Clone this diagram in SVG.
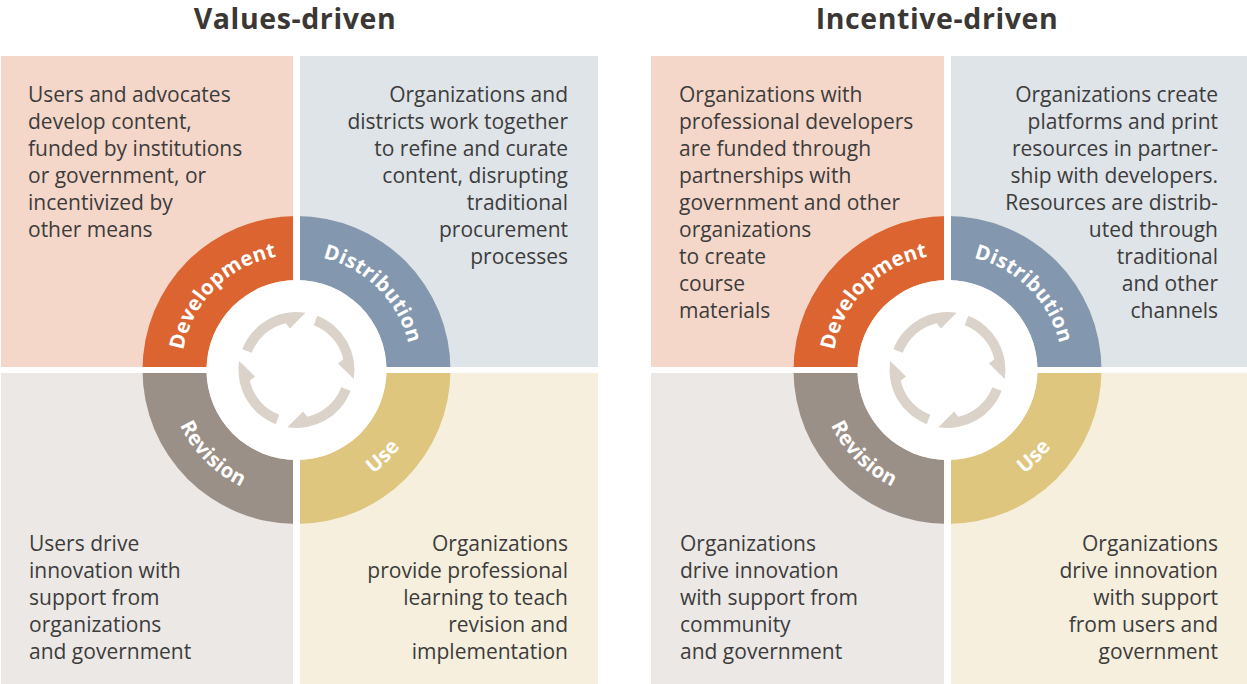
<svg xmlns="http://www.w3.org/2000/svg" xmlns:xlink="http://www.w3.org/1999/xlink" width="1247" height="684" viewBox="0 0 1247 684">
<style>
.title{font-family:"Open Sans","Liberation Sans",sans-serif;font-weight:700;font-size:28.5px;letter-spacing:0.6px;fill:#3a3735;text-anchor:middle}
.body{font-family:"Open Sans","Liberation Sans",sans-serif;font-size:21px;fill:#3c3c3c}
.r{text-anchor:end}
.lbl{font-family:"Open Sans","Liberation Sans",sans-serif;font-weight:700;font-size:20.5px;letter-spacing:0.3px;fill:#ffffff;text-anchor:middle}
.bgTL{fill:#f5d7c9}.bgTR{fill:#dfe4e8}.bgBL{fill:#ece8e5}.bgBR{fill:#f6efdd}
.dev{fill:#dc6430}.dist{fill:#8398ae}.rev{fill:#9b9087}.use{fill:#dfc67f}
.arr{fill:#dbd3c9}
</style>
<defs>
<path id="pDev" d="M-115,0 A115,115 0 0 1 0,-115"/>
<path id="pDist" d="M0,-115 A115,115 0 0 1 115,0"/>
<path id="pRev" d="M-129,0 A129,129 0 0 0 0,129"/>
<path id="pUse" d="M0,129 A129,129 0 0 0 129,0"/>
<path id="seg" d="M20.79,-54.15 A58,58 0 0 1 57.29,9.07 L41.48,-6.57 L46.77,-10.80 A48,48 0 0 0 17.20,-44.81 Z"/>
<g id="cycle">
<circle r="90" fill="#ffffff"/>
<use xlink:href="#seg" href="#seg" class="arr"/>
<use xlink:href="#seg" href="#seg" class="arr" transform="rotate(90)"/>
<use xlink:href="#seg" href="#seg" class="arr" transform="rotate(180)"/>
<use xlink:href="#seg" href="#seg" class="arr" transform="rotate(270)"/>
</g>
</defs>
<rect width="1247" height="684" fill="#ffffff"/>

<!-- Left panel: Values-driven -->
<g id="values-driven">
<text class="title" x="295" y="29">Values-driven</text>
<g id="v-development">
<rect class="bgTL" x="1" y="56" width="292" height="311"/>
<text class="body" x="28"><tspan x="28" y="101.5">Users and advocates</tspan><tspan x="28" y="128.5">develop content,</tspan><tspan x="28" y="155.5">funded by institutions</tspan><tspan x="28" y="182.5">or government, or</tspan><tspan x="28" y="209.5">incentivized by</tspan><tspan x="28" y="236.5">other means</tspan></text>
</g>
<g id="v-distribution">
<rect class="bgTR" x="300" y="56" width="298" height="311"/>
<text class="body r"><tspan x="568" y="101.5">Organizations and</tspan><tspan x="568" y="128.5">districts work together</tspan><tspan x="568" y="155.5">to refine and curate</tspan><tspan x="568" y="182.5">content, disrupting</tspan><tspan x="568" y="209.5">traditional</tspan><tspan x="568" y="236.5">procurement</tspan><tspan x="568" y="263.5">processes</tspan></text>
</g>
<g id="v-revision">
<rect class="bgBL" x="1" y="373" width="292" height="311"/>
<text class="body"><tspan x="29" y="550.5">Users drive</tspan><tspan x="29" y="577.5">innovation with</tspan><tspan x="29" y="604.5">support from</tspan><tspan x="29" y="631.5">organizations</tspan><tspan x="29" y="658.5">and government</tspan></text>
</g>
<g id="v-use">
<rect class="bgBR" x="300" y="373" width="298" height="311"/>
<text class="body r"><tspan x="568" y="550.5">Organizations</tspan><tspan x="568" y="577.5">provide professional</tspan><tspan x="568" y="604.5">learning to teach</tspan><tspan x="568" y="631.5">revision and</tspan><tspan x="568" y="658.5">implementation</tspan></text>
</g>
<g id="v-ring" transform="translate(296.5,370)">
<path class="dev" d="M-154,0 A154,154 0 0 1 0,-154 L0,-90 A90,90 0 0 0 -90,0Z"/>
<path class="dist" d="M0,-154 A154,154 0 0 1 154,0 L90,0 A90,90 0 0 0 0,-90Z"/>
<path class="use" d="M154,0 A154,154 0 0 1 0,154 L0,90 A90,90 0 0 0 90,0Z"/>
<path class="rev" d="M0,154 A154,154 0 0 1 -154,0 L-90,0 A90,90 0 0 0 0,90Z"/>
<rect x="-3.5" y="-156" width="7" height="312" fill="#ffffff"/>
<rect x="-156" y="-3" width="312" height="6" fill="#ffffff"/>
<use xlink:href="#cycle" href="#cycle"/>
<text class="lbl"><textPath xlink:href="#pDev" href="#pDev" startOffset="50%">Development</textPath></text>
<text class="lbl"><textPath xlink:href="#pDist" href="#pDist" startOffset="50%">Distribution</textPath></text>
<text class="lbl"><textPath xlink:href="#pRev" href="#pRev" startOffset="50%">Revision</textPath></text>
<text class="lbl"><textPath xlink:href="#pUse" href="#pUse" startOffset="50%">Use</textPath></text>
</g>
</g>

<!-- Right panel: Incentive-driven -->
<g id="incentive-driven">
<text class="title" x="937" y="29">Incentive-driven</text>
<g id="i-development">
<rect class="bgTL" x="651" y="56" width="293" height="311"/>
<text class="body"><tspan x="679" y="101.5">Organizations with</tspan><tspan x="679" y="128.5">professional developers</tspan><tspan x="679" y="155.5">are funded through</tspan><tspan x="679" y="182.5">partnerships with</tspan><tspan x="679" y="209.5">government and other</tspan><tspan x="679" y="236.5">organizations</tspan><tspan x="679" y="263.5">to create</tspan><tspan x="679" y="290.5">course</tspan><tspan x="679" y="317.5">materials</tspan></text>
</g>
<g id="i-distribution">
<rect class="bgTR" x="951" y="56" width="296" height="311"/>
<text class="body r"><tspan x="1218" y="101.5">Organizations create</tspan><tspan x="1218" y="128.5">platforms and print</tspan><tspan x="1218" y="155.5">resources in partner-</tspan><tspan x="1218" y="182.5">ship with developers.</tspan><tspan x="1218" y="209.5">Resources are distrib-</tspan><tspan x="1218" y="236.5">uted through</tspan><tspan x="1218" y="263.5">traditional</tspan><tspan x="1218" y="290.5">and other</tspan><tspan x="1218" y="317.5">channels</tspan></text>
</g>
<g id="i-revision">
<rect class="bgBL" x="651" y="373" width="293" height="311"/>
<text class="body"><tspan x="680" y="550.5">Organizations</tspan><tspan x="680" y="577.5">drive innovation</tspan><tspan x="680" y="604.5">with support from</tspan><tspan x="680" y="631.5">community</tspan><tspan x="680" y="658.5">and government</tspan></text>
</g>
<g id="i-use">
<rect class="bgBR" x="951" y="373" width="296" height="311"/>
<text class="body r"><tspan x="1218" y="550.5">Organizations</tspan><tspan x="1218" y="577.5">drive innovation</tspan><tspan x="1218" y="604.5">with support</tspan><tspan x="1218" y="631.5">from users and</tspan><tspan x="1218" y="658.5">government</tspan></text>
</g>
<g id="i-ring" transform="translate(947.5,370)">
<path class="dev" d="M-154,0 A154,154 0 0 1 0,-154 L0,-90 A90,90 0 0 0 -90,0Z"/>
<path class="dist" d="M0,-154 A154,154 0 0 1 154,0 L90,0 A90,90 0 0 0 0,-90Z"/>
<path class="use" d="M154,0 A154,154 0 0 1 0,154 L0,90 A90,90 0 0 0 90,0Z"/>
<path class="rev" d="M0,154 A154,154 0 0 1 -154,0 L-90,0 A90,90 0 0 0 0,90Z"/>
<rect x="-3.5" y="-156" width="7" height="312" fill="#ffffff"/>
<rect x="-156" y="-3" width="312" height="6" fill="#ffffff"/>
<use xlink:href="#cycle" href="#cycle"/>
<text class="lbl"><textPath xlink:href="#pDev" href="#pDev" startOffset="50%">Development</textPath></text>
<text class="lbl"><textPath xlink:href="#pDist" href="#pDist" startOffset="50%">Distribution</textPath></text>
<text class="lbl"><textPath xlink:href="#pRev" href="#pRev" startOffset="50%">Revision</textPath></text>
<text class="lbl"><textPath xlink:href="#pUse" href="#pUse" startOffset="50%">Use</textPath></text>
</g>
</g>
</svg>
